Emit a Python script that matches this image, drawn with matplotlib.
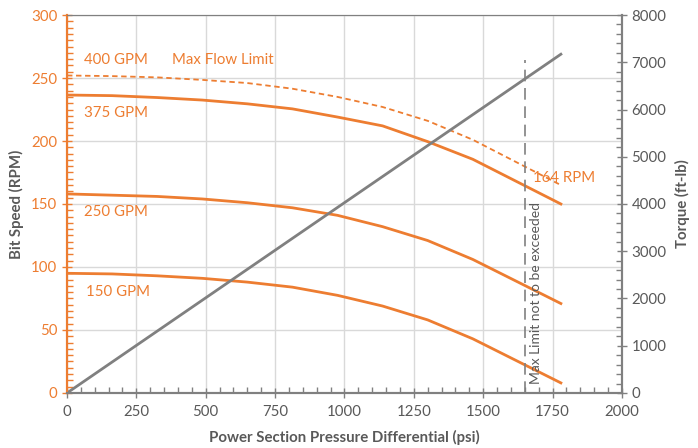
import matplotlib
matplotlib.use("Agg")
import matplotlib.pyplot as plt
from matplotlib.ticker import MultipleLocator

pressure = [0, 162.5, 325, 487.5, 650, 812.5, 975, 1137.5, 1300, 1462.5, 1780]
rpm_400 = [252, 251.5, 250.5, 248.5, 246, 241.5, 235, 227, 216, 201, 165]
rpm_375 = [236.5, 236, 234.5, 232.5, 229.5, 225.5, 219, 212, 199.5, 185.5, 150]
rpm_250 = [158, 157, 156, 154, 151, 147, 141, 132, 121, 106, 71]
rpm_150 = [95, 94.5, 93, 91, 88, 84, 77.5, 69, 58, 43, 8]
torque_p = [0, 1780]
torque = [0, 7170]
max_limit_x = 1650
max_limit_top = 264

plt.rcParams['font.family'] = ['Lato', 'DejaVu Sans']
ORANGE = '#ED7D31'
GRAY = '#808080'
DARK = '#595959'

fig = plt.figure(figsize=(6.98, 4.48), dpi=100)
ax = fig.add_axes([0.096, 0.1228, 0.795, 0.8437])
ax2 = ax.twinx()

ax.set_xlim(0, 2000)
ax.set_ylim(0, 300)
ax2.set_ylim(0, 8000)

ax.grid(True, color='#D9D9D9', linewidth=1.0)
ax.set_axisbelow(True)

ax.plot(pressure, rpm_400, color=ORANGE, lw=1.3, ls=(0, (3, 2)))
ax.plot(pressure, rpm_375, color=ORANGE, lw=2.0)
ax.plot(pressure, rpm_250, color=ORANGE, lw=2.0)
ax.plot(pressure, rpm_150, color=ORANGE, lw=2.0)
ax.vlines(max_limit_x, 0, max_limit_top, color=GRAY, lw=1.2, linestyles=(0, (7, 4)))
ax2.plot(torque_p, torque, color=GRAY, lw=2.0)

fs = 10.8
ax.text(60, 264, '400 GPM', color=ORANGE, fontsize=fs, va='center')
ax.text(380, 264, 'Max Flow Limit', color=ORANGE, fontsize=fs, va='center')
ax.text(60, 222, '375 GPM', color=ORANGE, fontsize=fs, va='center')
ax.text(60, 143.6, '250 GPM', color=ORANGE, fontsize=fs, va='center')
ax.text(70, 80, '150 GPM', color=ORANGE, fontsize=fs, va='center')
ax.text(1678, 171, '164 RPM', color=ORANGE, fontsize=fs, va='center')
ax.text(1690, 7, 'Max Limit not to be exceeded', color=DARK, fontsize=10,
        rotation=90, va='bottom', ha='center')

ax.xaxis.set_major_locator(MultipleLocator(250))
ax.xaxis.set_minor_locator(MultipleLocator(50))
ax.yaxis.set_major_locator(MultipleLocator(50))
ax.yaxis.set_minor_locator(MultipleLocator(5))
ax2.yaxis.set_major_locator(MultipleLocator(1000))
ax2.yaxis.set_minor_locator(MultipleLocator(200))

ax.tick_params(axis='x', which='major', direction='inout', length=7, color=GRAY,
               labelcolor=DARK, labelsize=fs, width=1, pad=5)
ax.tick_params(axis='x', which='minor', direction='in', length=4, color=GRAY, width=1)
ax.tick_params(axis='y', which='major', direction='inout', length=7, color=ORANGE,
               labelcolor=ORANGE, labelsize=fs, width=1)
ax.tick_params(axis='y', which='minor', direction='in', length=4, color=ORANGE, width=1)
ax2.tick_params(axis='y', which='major', direction='inout', length=7, color=GRAY,
                labelcolor=DARK, labelsize=fs, width=1)
ax2.tick_params(axis='y', which='minor', direction='in', length=4, color=GRAY, width=1)

for a in (ax, ax2):
    a.spines['top'].set_color(GRAY)
    a.spines['bottom'].set_color(GRAY)
    a.spines['right'].set_color(GRAY)
    a.spines['left'].set_color(ORANGE)
    a.spines['bottom'].set_linewidth(1.5)
    a.spines['left'].set_linewidth(1.5)
    a.spines['right'].set_linewidth(1.5)
    a.spines['top'].set_linewidth(0.8)

ax.set_xlabel('Power Section Pressure Differential (psi)', fontsize=fs,
              fontweight='bold', color=DARK, labelpad=8)
ax.set_ylabel('Bit Speed (RPM)', fontsize=fs, fontweight='bold', color=DARK, labelpad=5)
ax2.set_ylabel('Torque (ft-lb)', fontsize=fs, fontweight='bold', color=DARK, labelpad=6)

fig.savefig('out.png', dpi=100)
